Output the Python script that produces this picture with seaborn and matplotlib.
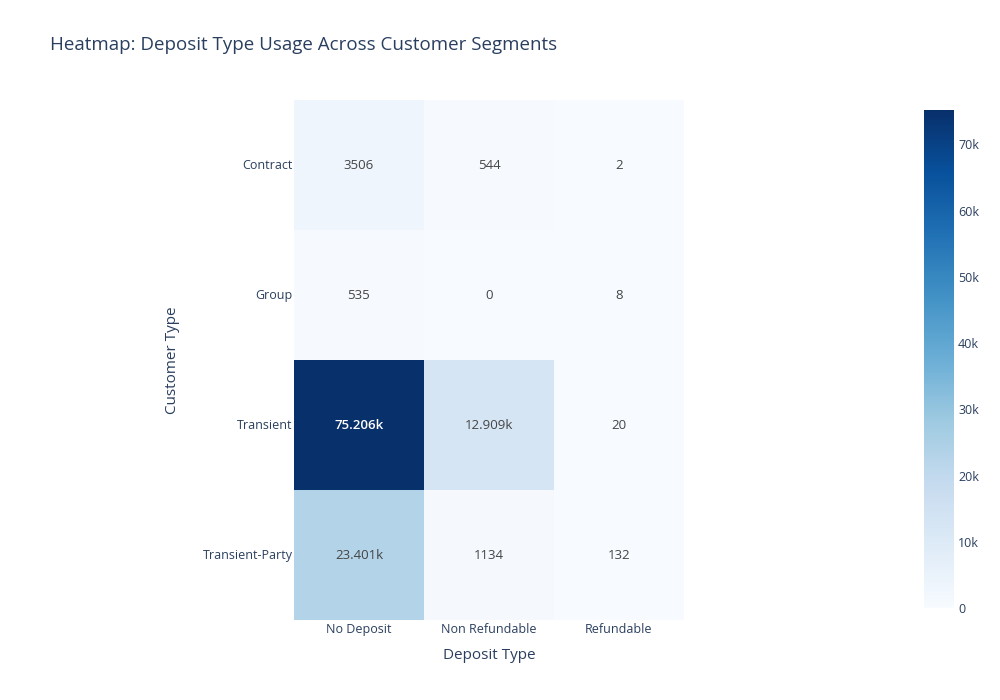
import matplotlib
matplotlib.use("Agg")
import matplotlib.pyplot as plt
import numpy as np
import pandas as pd
import seaborn as sns

customer_types = ["Contract", "Group", "Transient", "Transient-Party"]
deposit_types = ["No Deposit", "Non Refundable", "Refundable"]

no_deposit = [3506, 535, 75206, 23401]
non_refundable = [544, 0, 12909, 1134]
refundable = [2, 8, 20, 132]

cbar_ticks = [0, 10000, 20000, 30000, 40000, 50000, 60000, 70000]
cbar_labels = ["0", "10k", "20k", "30k", "40k", "50k", "60k", "70k"]

text_color = "#2a3f5f"


def fmt(v):
    if v >= 10000:
        return f"{v / 1000:.3f}k"
    return str(v)


counts = pd.DataFrame(
    {"No Deposit": no_deposit, "Non Refundable": non_refundable, "Refundable": refundable},
    index=customer_types,
)[deposit_types]
labels = counts.map(fmt)

sns.set_style("white")
plt.rcParams["font.family"] = ["Open Sans", "DejaVu Sans"]

fig = plt.figure(figsize=(10, 7), dpi=100)
ax = fig.add_axes([0.294, 0.114, 0.39, 0.743])
cax = fig.add_axes([0.924, 0.131, 0.03, 0.712])

vmax = counts.values.max()
sns.heatmap(
    counts,
    ax=ax,
    cbar_ax=cax,
    cmap="Blues",
    vmin=0,
    vmax=vmax,
    annot=False,
    linewidths=0,
)

# annotations: white on dark cells like plotly
norm = plt.Normalize(0, vmax)
for i, row in enumerate(customer_types):
    for j, col in enumerate(deposit_types):
        v = counts.loc[row, col]
        color = "white" if norm(v) > 0.5 else "#444444"
        weight = "semibold" if norm(v) > 0.5 else "normal"
        ax.text(j + 0.5, i + 0.5, labels.loc[row, col], ha="center", va="center",
                fontsize=9.5, color=color, fontweight=weight)

ax.set_xlabel("Deposit Type", fontsize=11, color=text_color, labelpad=9)
ax.set_ylabel("Customer Type", fontsize=11, color=text_color, labelpad=16)
ax.tick_params(axis="both", length=0, labelsize=9, labelcolor=text_color)
ax.tick_params(axis="x", pad=2)
ax.tick_params(axis="y", pad=1)
plt.setp(ax.get_yticklabels(), rotation=0)
plt.setp(ax.get_xticklabels(), rotation=0)

cax.set_yticks(cbar_ticks)
cax.set_yticklabels(cbar_labels)
cax.tick_params(length=0, labelsize=9, labelcolor=text_color, pad=3)
for s in cax.spines.values():
    s.set_visible(False)

fig.text(0.05, 0.936, "Heatmap: Deposit Type Usage Across Customer Segments",
         fontsize=13.5, color=text_color, ha="left", va="center")

fig.savefig("out.png", dpi=100)
